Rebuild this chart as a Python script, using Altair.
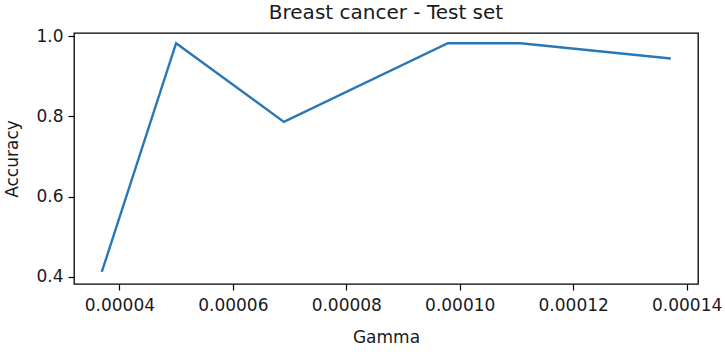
import altair as alt
import pandas as pd

gamma = [0.0000369, 0.0000500, 0.0000690, 0.0000979, 0.0001107, 0.0001372]
accuracy = [0.412, 0.982, 0.786, 0.982, 0.982, 0.944]
x_ticks = [0.00004, 0.00006, 0.00008, 0.00010, 0.00012, 0.00014]
y_ticks = [0.4, 0.6, 0.8, 1.0]

df = pd.DataFrame({"Gamma": gamma, "Accuracy": accuracy})

FONT = "DejaVu Sans"

chart = alt.Chart(df).mark_line(color="#2a77b6", strokeWidth=2.4).encode(
    x=alt.X("Gamma:Q",
            scale=alt.Scale(domain=[0.000032, 0.000142], nice=False, zero=False),
            axis=alt.Axis(values=x_ticks, format=".5f", title="Gamma",
                          grid=False, tickSize=6, tickColor="black", tickWidth=1.2,
                          domain=False, labelFontSize=17, labelFont=FONT,
                          labelColor="#1a1a1a", labelPadding=7,
                          titleFontSize=17, titleFont=FONT, titleFontWeight="normal",
                          titleColor="#1a1a1a", titlePadding=16)),
    y=alt.Y("Accuracy:Q",
            scale=alt.Scale(domain=[0.382, 1.0075], nice=False, zero=False),
            axis=alt.Axis(values=y_ticks, format=".1f", title="Accuracy",
                          grid=False, tickSize=6, tickColor="black", tickWidth=1.2,
                          domain=False, labelFontSize=17, labelFont=FONT,
                          labelColor="#1a1a1a", labelPadding=5,
                          titleFontSize=17, titleFont=FONT, titleFontWeight="normal",
                          titleColor="#1a1a1a", titlePadding=14)),
).properties(
    width=624,
    height=251,
    title=alt.TitleParams("Breast cancer - Test set", fontSize=20, font=FONT,
                          fontWeight="normal", color="#1a1a1a", anchor="middle", offset=4),
    autosize=alt.AutoSizeParams(type="none"),
    padding={"left": 74, "top": 33, "right": 27, "bottom": 70},
    background="white",
).configure_view(
    stroke="black", strokeWidth=1.3
)

chart.save("out.html", embed_options={"renderer": "svg", "actions": False})
